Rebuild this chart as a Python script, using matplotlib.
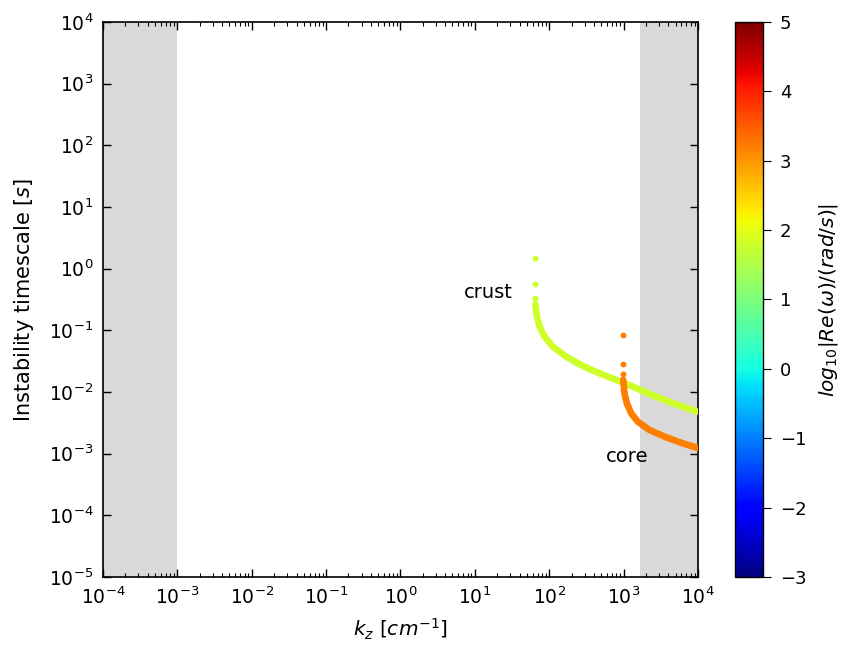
import numpy as np
import matplotlib
matplotlib.use("Agg")
import matplotlib.pyplot as plt
from matplotlib import ticker, colors, cm

# ---- data ----
# crust branch
crust_iso_k = [65.0, 65.0, 65.0]
crust_iso_tau = [1.48, 0.573, 0.34]
crust_k = [65.0, 65.6, 68.3, 74.2, 86.6, 112, 169, 283, 475, 796, 1330, 2230, 3740, 6250, 10000]
crust_tau = [0.265, 0.243, 0.167, 0.115, 0.079, 0.0543, 0.0374, 0.0264, 0.0201, 0.0157,
             0.0122, 0.0093, 0.00723, 0.00577, 0.00479]
crust_logw = 1.8

# core branch
core_iso_k = [980.0, 980.0, 980.0]
core_iso_tau = [0.083, 0.0288, 0.0194]
core_k = [985, 998, 1028, 1104, 1265, 1552, 2230, 3740, 6250, 10000]
core_tau = [0.0157, 0.0138, 0.00953, 0.00656, 0.00451, 0.0033, 0.00242, 0.00184, 0.00147, 0.00123]
core_logw = 3.2

shade_left = (1e-4, 1e-3)
shade_right = (1.68e3, 1e4)

x_ticks = [1e-4, 1e-3, 1e-2, 1e-1, 1e0, 1e1, 1e2, 1e3, 1e4]
y_ticks = [1e-5, 1e-4, 1e-3, 1e-2, 1e-1, 1e0, 1e1, 1e2, 1e3, 1e4]
cbar_ticks = [-3, -2, -1, 0, 1, 2, 3, 4, 5]

plt.rcParams['font.family'] = ['DejaVu Sans']
plt.rcParams['mathtext.fontset'] = 'dejavusans'
TICK_FS = 13.5

fig = plt.figure(figsize=(8.56, 6.55), dpi=100)
ax = fig.add_axes([0.1203, 0.1191, 0.8154 - 0.1203, 0.9664 - 0.1191])
cax = fig.add_axes([0.8586, 0.1191, 0.8914 - 0.8586, 0.9664 - 0.1191])

cmap = plt.get_cmap('jet')
norm = colors.Normalize(vmin=-3, vmax=5)

ax.axvspan(*shade_left, color='#d9d9d9', lw=0, zorder=0)
ax.axvspan(*shade_right, color='#d9d9d9', lw=0, zorder=0)

for k, t, ki, ti, w in [(crust_k, crust_tau, crust_iso_k, crust_iso_tau, crust_logw),
                        (core_k, core_tau, core_iso_k, core_iso_tau, core_logw)]:
    c = cmap(norm(w))
    ax.plot(k, t, color=c, lw=4.8, solid_capstyle='round', zorder=3)
    ax.scatter(ki, ti, s=18, color=c, lw=0, zorder=3)

ax.text(15.3, 0.405, 'crust', fontsize=14, ha='center', va='center')
ax.text(1130, 9.1e-4, 'core', fontsize=14, ha='center', va='center')

ax.set_xscale('log')
ax.set_yscale('log')
ax.set_xlim(1e-4, 1e4)
ax.set_ylim(1e-5, 1e4)
ax.set_xticks(x_ticks)
ax.set_yticks(y_ticks)
ax.xaxis.set_minor_locator(ticker.LogLocator(base=10, subs=np.arange(2, 10), numticks=20))
ax.yaxis.set_minor_locator(ticker.NullLocator())
ax.tick_params(which='both', direction='in', top=True, right=True, labelsize=TICK_FS, pad=7)
ax.tick_params(which='major', length=6, width=1)
ax.tick_params(which='minor', length=3, width=0.8)
for s in ax.spines.values():
    s.set_linewidth(1.2)

ax.set_xlabel(r'$k_z\ [cm^{-1}]$', fontsize=14.5, labelpad=6)
ax.set_ylabel('Instability timescale [$s$]', fontsize=15, labelpad=9)

sm = cm.ScalarMappable(norm=norm, cmap=cmap)
cb = fig.colorbar(sm, cax=cax)
cb.set_ticks(cbar_ticks)
cb.ax.tick_params(labelsize=13, direction='out', length=6, pad=6)
cb.outline.set_linewidth(1.0)
cb.set_label(r'$log_{10}|Re(\omega)/(rad/s)|$', fontsize=14.5, labelpad=8)

fig.savefig('out.png', dpi=100)
